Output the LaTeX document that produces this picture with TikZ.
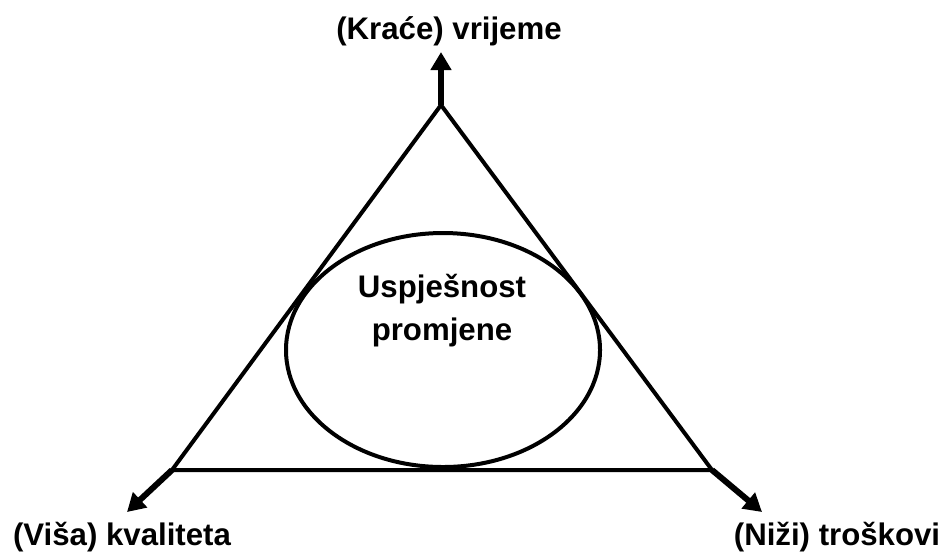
\documentclass[tikz,border=0pt]{standalone}
\usepackage{fontspec}
\setmainfont{Liberation Sans}
\usetikzlibrary{arrows.meta,shapes.geometric}
\tikzset{
  side/.style={line width=2pt},
  axis/.style={line width=3pt,-{Triangle[width=10pt,length=9pt]}},
  lbl/.style={font=\bfseries\fontsize{15.6pt}{21.5pt}\selectfont,align=center,inner sep=0pt}
}
\begin{document}
\begin{tikzpicture}[x=0.5pt,y=-0.5pt]
\useasboundingbox (0,0) rectangle (945,559);

\coordinate (top) at (441,105);
\coordinate (bl) at (172,470);
\coordinate (br) at (712,470);
\coordinate (topend) at (441,52);
\coordinate (blend) at (127,512);
\coordinate (brend) at (762,512);

\node[ellipse,draw,side,minimum width=157pt,minimum height=117pt,inner sep=0pt] (succ) at (443,350) {};
\draw[side,line join=miter] (top) -- (bl) -- (br) -- cycle;
\draw[axis] (top) -- (topend);
\draw[axis] (bl) -- (blend);
\draw[axis] (br) -- (brend);

\node[lbl] (uspj) at (442,311) {Uspješnost\\promjene};
\node[lbl] (vrij) at (449,31) {(Kraće) vrijeme};
\node[lbl] (kval) at (122,537) {(Viša) kvaliteta};
\node[lbl] (tros) at (837,537) {(Niži) troškovi};
\end{tikzpicture}
\end{document}
